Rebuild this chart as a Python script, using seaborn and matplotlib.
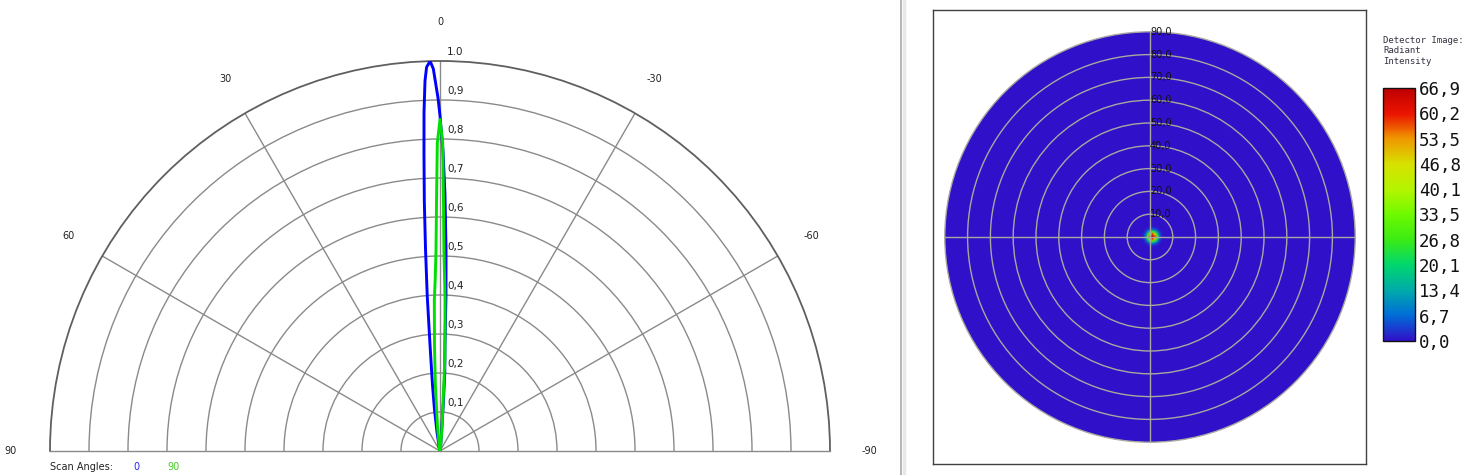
import numpy as np
import matplotlib
matplotlib.use('Agg')
import matplotlib.pyplot as plt
import seaborn as sns
from matplotlib.patches import Circle
from matplotlib.lines import Line2D

# ---------------- data ----------------
scan0_angles = [-90, -20, -8, -5, -4, -3.5, -2.7, -2.2, -1.7, -1.1, -0.57, 0, 0.32,
                1.0, 1.45, 2.0, 2.32, 2.7, 3.1, 3.6, 4.1, 4.7, 5.4, 6.5, 7.5, 9, 12,
                20, 90]
scan0_int = [0, 0, 0.01, 0.04, 0.12, 0.2, 0.27, 0.40, 0.52, 0.66, 0.77, 0.86, 0.905,
             0.98, 1.0, 0.985, 0.95, 0.87, 0.76, 0.64, 0.52, 0.40, 0.27, 0.17, 0.11,
             0.05, 0.01, 0, 0]
scan90_angles = [-90, -20, -8, -5, -3, -1.9, -1.1, -0.8, -0.5, 0, 0.5, 0.8, 1.14,
                 1.6, 2.16, 3.0, 4.0, 6, 9, 20, 90]
scan90_int = [0, 0, 0.01, 0.06, 0.24, 0.39, 0.52, 0.64, 0.79, 0.85, 0.79, 0.64, 0.515,
              0.44, 0.387, 0.27, 0.17, 0.06, 0.01, 0, 0]

theta_ticks = [90, 60, 30, 0, -30, -60, -90]
theta_labels = ['90', '60', '30', '0', '-30', '-60', '-90']
r_ticks = [0.1, 0.2, 0.3, 0.4, 0.5, 0.6, 0.7, 0.8, 0.9, 1.0]
r_labels = ['0,1', '0,2', '0,3', '0,4', '0,5', '0,6', '0,7', '0,8', '0,9', '1.0']

ring_angles = [10, 20, 30, 40, 50, 60, 70, 80, 90]
ring_labels = ['10,0', '20,0', '30,0', '40,0', '50,0', '60,0', '70,0', '80,0', '90,0']

cbar_ticks = [0.0, 6.7, 13.4, 20.1, 26.8, 33.5, 40.1, 46.8, 53.5, 60.2, 66.9]
cbar_labels = ['0,0', '6,7', '13,4', '20,1', '26,8', '33,5', '40,1', '46,8',
               '53,5', '60,2', '66,9']
cmap_colors = ['#3010C8', '#006ED7', '#00AAAA', '#00D76E', '#3CEB14', '#6EFA00',
               '#B4F500', '#D7E100', '#F09600', '#EB1400', '#BE0000']

# detector hot spot (1 degree cells, centred on the spot)
spot = [
    [0.0, 0.0, 0.3, 0.8, 1.2, 0.8, 0.3, 0.0, 0.0],
    [0.0, 0.8, 3.0, 6.0, 8.0, 6.0, 3.0, 0.8, 0.0],
    [0.3, 3.0, 11.0, 24.0, 30.0, 24.0, 11.0, 3.0, 0.3],
    [0.8, 6.0, 24.0, 48.0, 58.0, 48.0, 24.0, 6.0, 0.8],
    [1.2, 8.0, 30.0, 58.0, 66.9, 58.0, 30.0, 8.0, 1.2],
    [0.8, 6.0, 24.0, 48.0, 58.0, 48.0, 24.0, 6.0, 0.8],
    [0.3, 3.0, 11.0, 24.0, 30.0, 24.0, 11.0, 3.0, 0.3],
    [0.0, 0.8, 3.0, 6.0, 8.0, 6.0, 3.0, 0.8, 0.0],
    [0.0, 0.0, 0.3, 0.8, 1.2, 0.8, 0.3, 0.0, 0.0],
]
spot_center = (1.0, 0.0)

# ---------------- style ----------------
sns.set_style('white')
plt.rcParams['font.family'] = ['DejaVu Sans']

W, H = 1482, 475
fig = plt.figure(figsize=(W / 100, H / 100), dpi=100)
fig.patch.set_facecolor('white')

grid_col = '#8a8a8a'

# ---------------- left: polar plot ----------------
# square box of 780 px; the half-disc wedge (780x390) is centred in it
ax = fig.add_axes([50 / W, (H - 646) / H, 780 / W, 780 / H], projection='polar')
ax.set_thetamin(-90)
ax.set_thetamax(90)
ax.set_theta_zero_location('N')
ax.set_theta_direction(1)
ax.set_rlim(0, 1)
ax.set_xticks(np.deg2rad([-60, -30, 0, 30, 60]))
ax.set_xticklabels([])
ax.set_yticks(r_ticks[:-1])
ax.set_yticklabels([])
ax.tick_params(length=0)
ax.grid(True, color=grid_col, lw=1.0)
ax.spines['polar'].set_color('#5f5f5f')
ax.spines['polar'].set_linewidth(1.3)
for s in ('start', 'end'):
    ax.spines[s].set_color(grid_col)
    ax.spines[s].set_linewidth(1.0)

sns.lineplot(x=np.deg2rad(scan0_angles), y=scan0_int, ax=ax, color='#0000FF',
             sort=False, estimator=None, linewidth=2.1, zorder=5)
sns.lineplot(x=np.deg2rad(scan90_angles), y=scan90_int, ax=ax, color='#00E000',
             sort=False, estimator=None, linewidth=2.1, zorder=6)
ax.set_xlabel('')
ax.set_ylabel('')

for t, l in zip(theta_ticks, theta_labels):
    ax.text(np.deg2rad(t), 1.1, l, ha='center', va='center', fontsize=7,
            color='#222222', clip_on=False)
for r, l in zip(r_ticks, r_labels):
    ax.annotate(l, xy=(0, r), xytext=(7, 4), textcoords='offset pixels',
                ha='left', va='bottom', fontsize=7.5, color='#222222')

fig.text(50 / W, (H - 467) / H, 'Scan Angles:', fontsize=7, va='center', color='#222222')
fig.text(133 / W, (H - 467) / H, '0', fontsize=7, va='center', color='#2222FF')
fig.text(167 / W, (H - 467) / H, '90', fontsize=7, va='center', color='#44CC22')

# divider
fig.add_artist(Line2D([901 / W, 901 / W], [0, 1], color='#a8a8a8', lw=1.2))
fig.add_artist(Line2D([903.5 / W, 903.5 / W], [0, 1], color='#e8e8e8', lw=2.5))

# ---------------- right: detector image ----------------
ppd = 2.28  # pixels per degree
axr = fig.add_axes([933 / W, (H - 464) / H, 433 / W, 454 / H])
axr.set_xlim(-(1150 - 933) / ppd, (1366 - 1150) / ppd)
axr.set_ylim(-(464 - 237) / ppd, (237 - 10) / ppd)
axr.set_xticks([])
axr.set_yticks([])
for s in axr.spines.values():
    s.set_color('#404040')
    s.set_linewidth(1.0)

cmap = sns.blend_palette(cmap_colors, n_colors=256, as_cmap=True)
axr.add_patch(Circle((0, 0), ring_angles[-1], facecolor=cmap(0.0), edgecolor='none', zorder=1))
im = axr.imshow(np.array(spot), cmap=cmap, vmin=cbar_ticks[0], vmax=cbar_ticks[-1],
                extent=[spot_center[0] - 4.5, spot_center[0] + 4.5,
                        spot_center[1] - 4.5, spot_center[1] + 4.5],
                interpolation='bilinear', origin='lower', zorder=2, aspect='auto')
ring_col = '#a8a8a0'
for a in ring_angles:
    axr.add_patch(Circle((0, 0), a, facecolor='none', edgecolor=ring_col, lw=1.0, zorder=3))
R = ring_angles[-1]
axr.plot([-R, R], [0, 0], color=ring_col, lw=1.0, zorder=3)
axr.plot([0, 0], [-R, R], color=ring_col, lw=1.0, zorder=3)
for a, l in zip(ring_angles, ring_labels):
    axr.text(0, a, l, ha='left', va='center', fontsize=7, color='#111111', zorder=4)

# colorbar
cax = fig.add_axes([1383 / W, (H - 341) / H, 32 / W, 253 / H])
cb = fig.colorbar(im, cax=cax, ticks=cbar_ticks)
cb.set_ticklabels(cbar_labels)
cax.tick_params(length=0, pad=3)
for lab in cax.get_yticklabels():
    lab.set_fontfamily('DejaVu Sans Mono')
    lab.set_fontsize(12.5)
    lab.set_color('#111111')
cb.outline.set_edgecolor('#111111')
cb.outline.set_linewidth(1.0)

fig.text(1383 / W, (H - 36) / H, 'Detector Image:\nRadiant\nIntensity',
         fontsize=6.5, family='DejaVu Sans Mono', color='#333344', va='top',
         ha='left', linespacing=1.2)

fig.savefig('out.png', dpi=100)
